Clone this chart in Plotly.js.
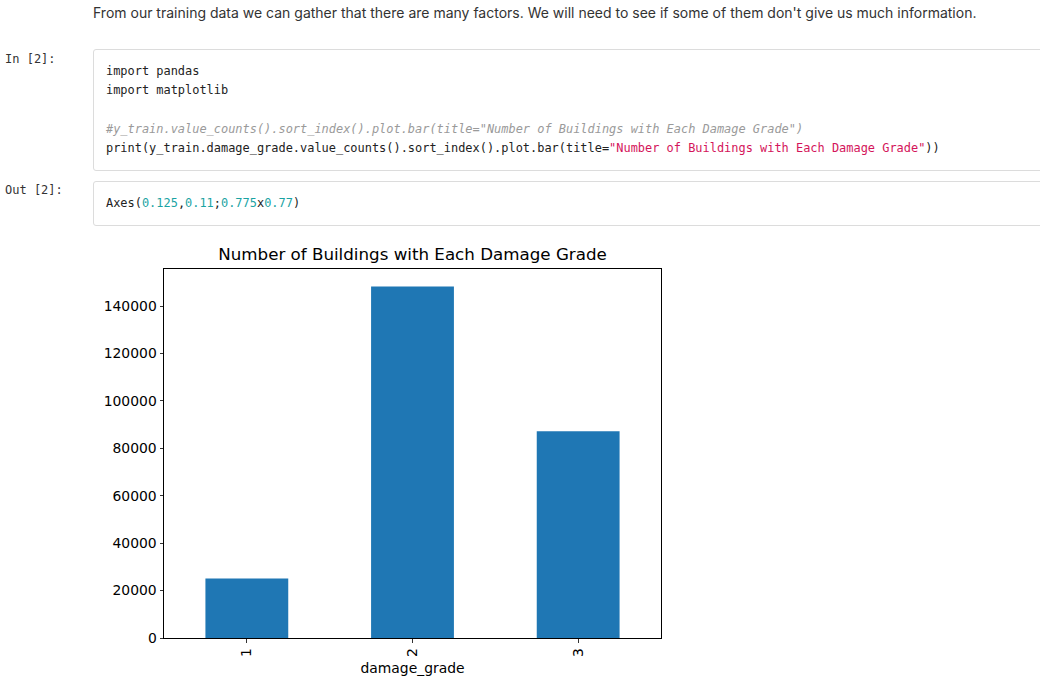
<!DOCTYPE html>
<html>
<head>
<meta charset="utf-8">
<script src="https://cdn.plot.ly/plotly-3.0.1.min.js"></script>
<style>
  html, body { margin:0; padding:0; background:#fff; width:1040px; height:691px; overflow:hidden; }
  body { position:relative; font-family: Inter, "Noto Sans", sans-serif; }
  .md { position:absolute; left:93px; top:4px; font-size:14px; color:#333; white-space:nowrap; }
  .prompt { position:absolute; left:5px; font-family:"DejaVu Sans Mono", monospace; font-size:12px; color:#333; }
  .cell { position:absolute; left:93px; width:960px; border:1px solid #dcdcdc; border-radius:3px; background:#fff; }
  .code { position:absolute; left:106px; font-family:"DejaVu Sans Mono", monospace; font-size:11.95px; color:#222; white-space:pre; line-height:19.3px; }
  .cm { color:#9a9a9a; font-style:italic; }
  .str { color:#d4145a; }
  .num { color:#1aa3a3; }
  #chart { position:absolute; left:60px; top:238px; width:620px; height:453px; }
</style>
</head>
<body>
<div class="md">From our training data we can gather that there are many factors. We will need to see if some of them don't give us much information.</div>

<div class="prompt" style="top:52px;">In [2]:</div>
<div class="cell" style="top:49px; height:120px;"></div>
<div class="code" style="top:62px;">import pandas
import matplotlib

<span class="cm">#y_train.value_counts().sort_index().plot.bar(title="Number of Buildings with Each Damage Grade")</span>
print(y_train.damage_grade.value_counts().sort_index().plot.bar(title=<span class="str">"Number of Buildings with Each Damage Grade"</span>))</div>

<div class="prompt" style="top:183px;">Out [2]:</div>
<div class="cell" style="top:181px; height:43px;"></div>
<div class="code" style="top:194px;">Axes(<span class="num">0.125</span>,<span class="num">0.11</span>;<span class="num">0.775</span>x<span class="num">0.77</span>)</div>

<div id="chart"></div>

<script>
const categories = ['1', '2', '3'];
const counts = [25124, 148259, 87218];
const chartTitle = 'Number of Buildings with Each Damage Grade';
const xLabel = 'damage_grade';

const mplFont = 'DejaVu Sans, sans-serif';
const ymax = Math.max(...counts) * 1.05;

const trace = {
  type: 'bar',
  x: categories,
  y: counts,
  width: 0.5,
  marker: { color: '#1f77b4', line: { width: 0 } },
  hoverinfo: 'x+y'
};

const layout = {
  width: 620,
  height: 453,
  margin: { l: 104, r: 19, t: 31, b: 53 },
  paper_bgcolor: 'rgba(0,0,0,0)',
  plot_bgcolor: '#fff',
  showlegend: false,
  title: {
    text: chartTitle,
    font: { family: mplFont, size: 16.7, color: '#000' },
    x: 0.5,
    xanchor: 'center',
    xref: 'paper',
    y: 1 - 16 / 453,
    yanchor: 'middle'
  },
  xaxis: {
    type: 'category',
    range: [-0.5, 2.5],
    showline: true, mirror: true, linecolor: '#000', linewidth: 1,
    ticks: 'outside', ticklen: 3.5, tickwidth: 0.8, tickcolor: '#000',
    tickangle: -90,
    showgrid: false, zeroline: false,
    tickfont: { family: mplFont, size: 13.9, color: '#000' },
    title: { text: xLabel, font: { family: mplFont, size: 13.9, color: '#000' }, standoff: 7 },
    fixedrange: true
  },
  yaxis: {
    range: [0, ymax],
    dtick: 20000, tick0: 0,
    tickformat: 'd',
    showline: true, mirror: true, linecolor: '#000', linewidth: 1,
    ticks: 'outside', ticklen: 3.5, tickwidth: 0.8, tickcolor: '#000',
    showgrid: false, zeroline: false,
    tickfont: { family: mplFont, size: 13.9, color: '#000' },
    fixedrange: true
  }
};

Plotly.newPlot('chart', [trace], layout, { displayModeBar: false, staticPlot: true });
</script>
</body>
</html>
